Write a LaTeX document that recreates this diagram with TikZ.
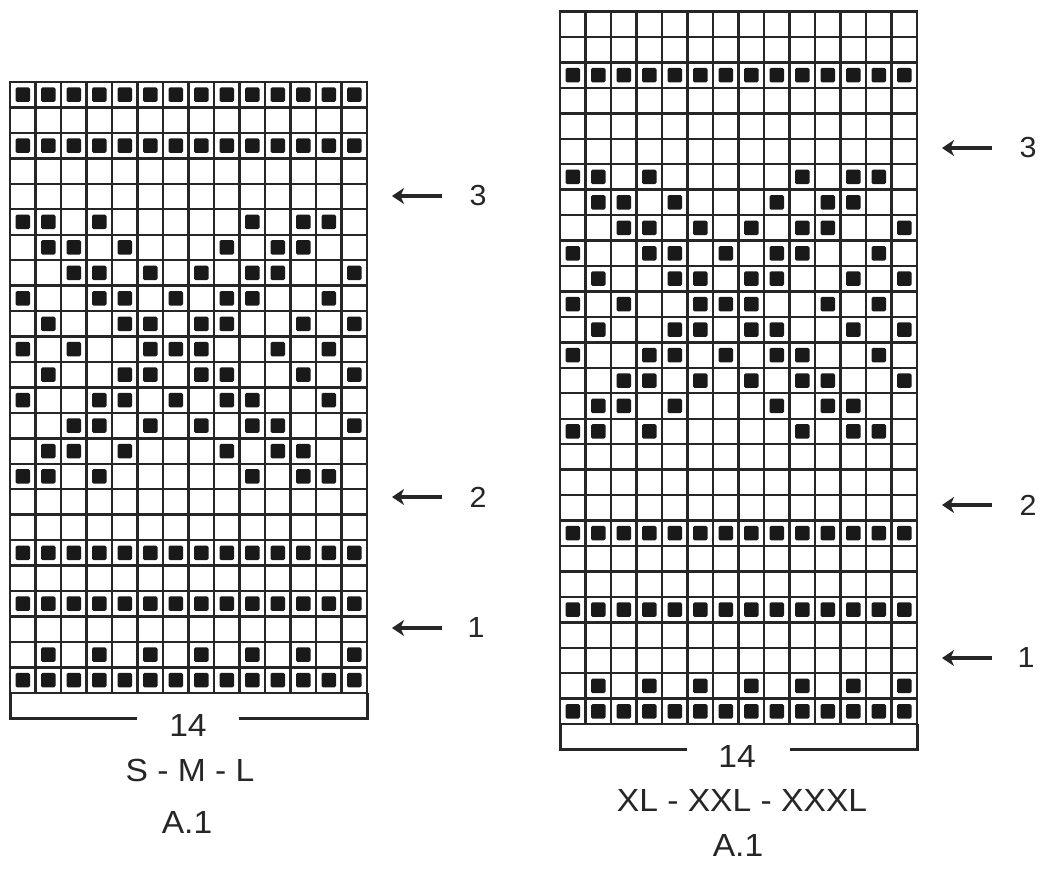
\documentclass[tikz,border=0pt]{standalone}
\usepackage{fontspec}
\setmainfont{Liberation Sans}[FakeStretch=1.05]
\usetikzlibrary{arrows.meta}
\tikzset{
  gridline/.style={line width=2.4pt, draw=black!85},
  stitch/.style={fill=black!90, minimum size=14.5pt, inner sep=0pt, rounded corners=1.5pt, draw=none},
  bracket/.style={line width=3pt, draw=black!85},
  lbl/.style={font=\fontsize{32}{36}\selectfont, inner sep=0pt, text=black!85},
  rowlbl/.style={font=\fontsize{29}{33}\selectfont, inner sep=0pt, text=black!85},
  rowarrow/.style={line width=3.6pt, draw=black!85, -{Stealth[length=12pt,width=16pt,inset=3.5pt]}},
}
\begin{document}
\begin{tikzpicture}[x=1pt,y=-1pt]
\useasboundingbox[fill=white] (0,0) rectangle (1044,870);

% ---------- left chart (S - M - L) ----------
\begin{scope}[xshift=10pt,yshift=-82pt,x=25.5pt,y=-25.45pt]
  \foreach \i in {0,...,14} \draw[gridline] (\i,0) -- (\i,24);
  \foreach \j in {0,...,24} \draw[gridline] (0,\j) -- (14,\j);
  \draw[gridline] (0,0) rectangle (14,24);
  \foreach \r/\cs in {1/{0,...,13},3/{0,...,13},
      6/{0,1,3,9,11,12},7/{1,2,4,8,10,11},8/{2,3,5,7,9,10,13},
      9/{0,3,4,6,8,9,12},10/{1,4,5,7,8,11,13},11/{0,2,5,6,7,10,12},
      12/{1,4,5,7,8,11,13},13/{0,3,4,6,8,9,12},14/{2,3,5,7,9,10,13},
      15/{1,2,4,8,10,11},16/{0,1,3,9,11,12},
      19/{0,...,13},21/{0,...,13},23/{1,3,5,7,9,11,13},24/{0,...,13}}
    \foreach \c in \cs \node[stitch] (L-\r-\c) at (\c+0.5,\r-0.5) {};
  \coordinate (Lbl) at (0,24);
  \coordinate (Lbr) at (14,24);
\end{scope}
\coordinate (Lb1) at (10,718);
\coordinate (Lb2) at (137,718);
\coordinate (Lb3) at (239,718);
\coordinate (Lb4) at (367,718);
\draw[bracket] (Lbl) -- (Lb1) -- (Lb2);
\draw[bracket] (Lb3) -- (Lb4) -- (Lbr);
\node[lbl] (L14) at (188,725) {14};
\node[lbl] (Lsz) at (190,770) {S - M - L};
\node[lbl] (LA) at (187,822) {A.1};

% row markers left
\node[rowlbl] (Ln3) at (478,196) {3};
\node[rowlbl] (Ln2) at (478,497) {2};
\node[rowlbl] (Ln1) at (476,628) {1};
\coordinate (La3s) at (442,196); \coordinate (La3e) at (392,196);
\coordinate (La2s) at (442,497); \coordinate (La2e) at (392,497);
\coordinate (La1s) at (442,628); \coordinate (La1e) at (392,628);
\draw[rowarrow] (La3s) -- (La3e);
\draw[rowarrow] (La2s) -- (La2e);
\draw[rowarrow] (La1s) -- (La1e);

% ---------- right chart (XL - XXL - XXXL) ----------
\begin{scope}[xshift=560pt,yshift=-11.5pt,x=25.5pt,y=-25.45pt]
  \foreach \i in {0,...,14} \draw[gridline] (\i,0) -- (\i,28);
  \foreach \j in {0,...,28} \draw[gridline] (0,\j) -- (14,\j);
  \draw[gridline] (0,0) rectangle (14,28);
  \foreach \r/\cs in {3/{0,...,13},
      7/{0,1,3,9,11,12},8/{1,2,4,8,10,11},9/{2,3,5,7,9,10,13},
      10/{0,3,4,6,8,9,12},11/{1,4,5,7,8,11,13},12/{0,2,5,6,7,10,12},
      13/{1,4,5,7,8,11,13},14/{0,3,4,6,8,9,12},15/{2,3,5,7,9,10,13},
      16/{1,2,4,8,10,11},17/{0,1,3,9,11,12},
      21/{0,...,13},24/{0,...,13},27/{1,3,5,7,9,11,13},28/{0,...,13}}
    \foreach \c in \cs \node[stitch] (R-\r-\c) at (\c+0.5,\r-0.5) {};
  \coordinate (Rbl) at (0,28);
  \coordinate (Rbr) at (14,28);
\end{scope}
\coordinate (Rb1) at (560,749);
\coordinate (Rb2) at (687,749);
\coordinate (Rb3) at (790,749);
\coordinate (Rb4) at (917,749);
\draw[bracket] (Rbl) -- (Rb1) -- (Rb2);
\draw[bracket] (Rb3) -- (Rb4) -- (Rbr);
\node[lbl] (R14) at (737,756) {14};
\node[lbl] (Rsz) at (742,800) {XL - XXL - XXXL};
\node[lbl] (RA) at (738,845) {A.1};

% row markers right
\node[rowlbl] (Rn3) at (1028,148) {3};
\node[rowlbl] (Rn2) at (1028,505) {2};
\node[rowlbl] (Rn1) at (1026,658) {1};
\coordinate (Ra3s) at (992,148); \coordinate (Ra3e) at (942,148);
\coordinate (Ra2s) at (992,505); \coordinate (Ra2e) at (942,505);
\coordinate (Ra1s) at (992,658); \coordinate (Ra1e) at (942,658);
\draw[rowarrow] (Ra3s) -- (Ra3e);
\draw[rowarrow] (Ra2s) -- (Ra2e);
\draw[rowarrow] (Ra1s) -- (Ra1e);
\end{tikzpicture}
\end{document}
